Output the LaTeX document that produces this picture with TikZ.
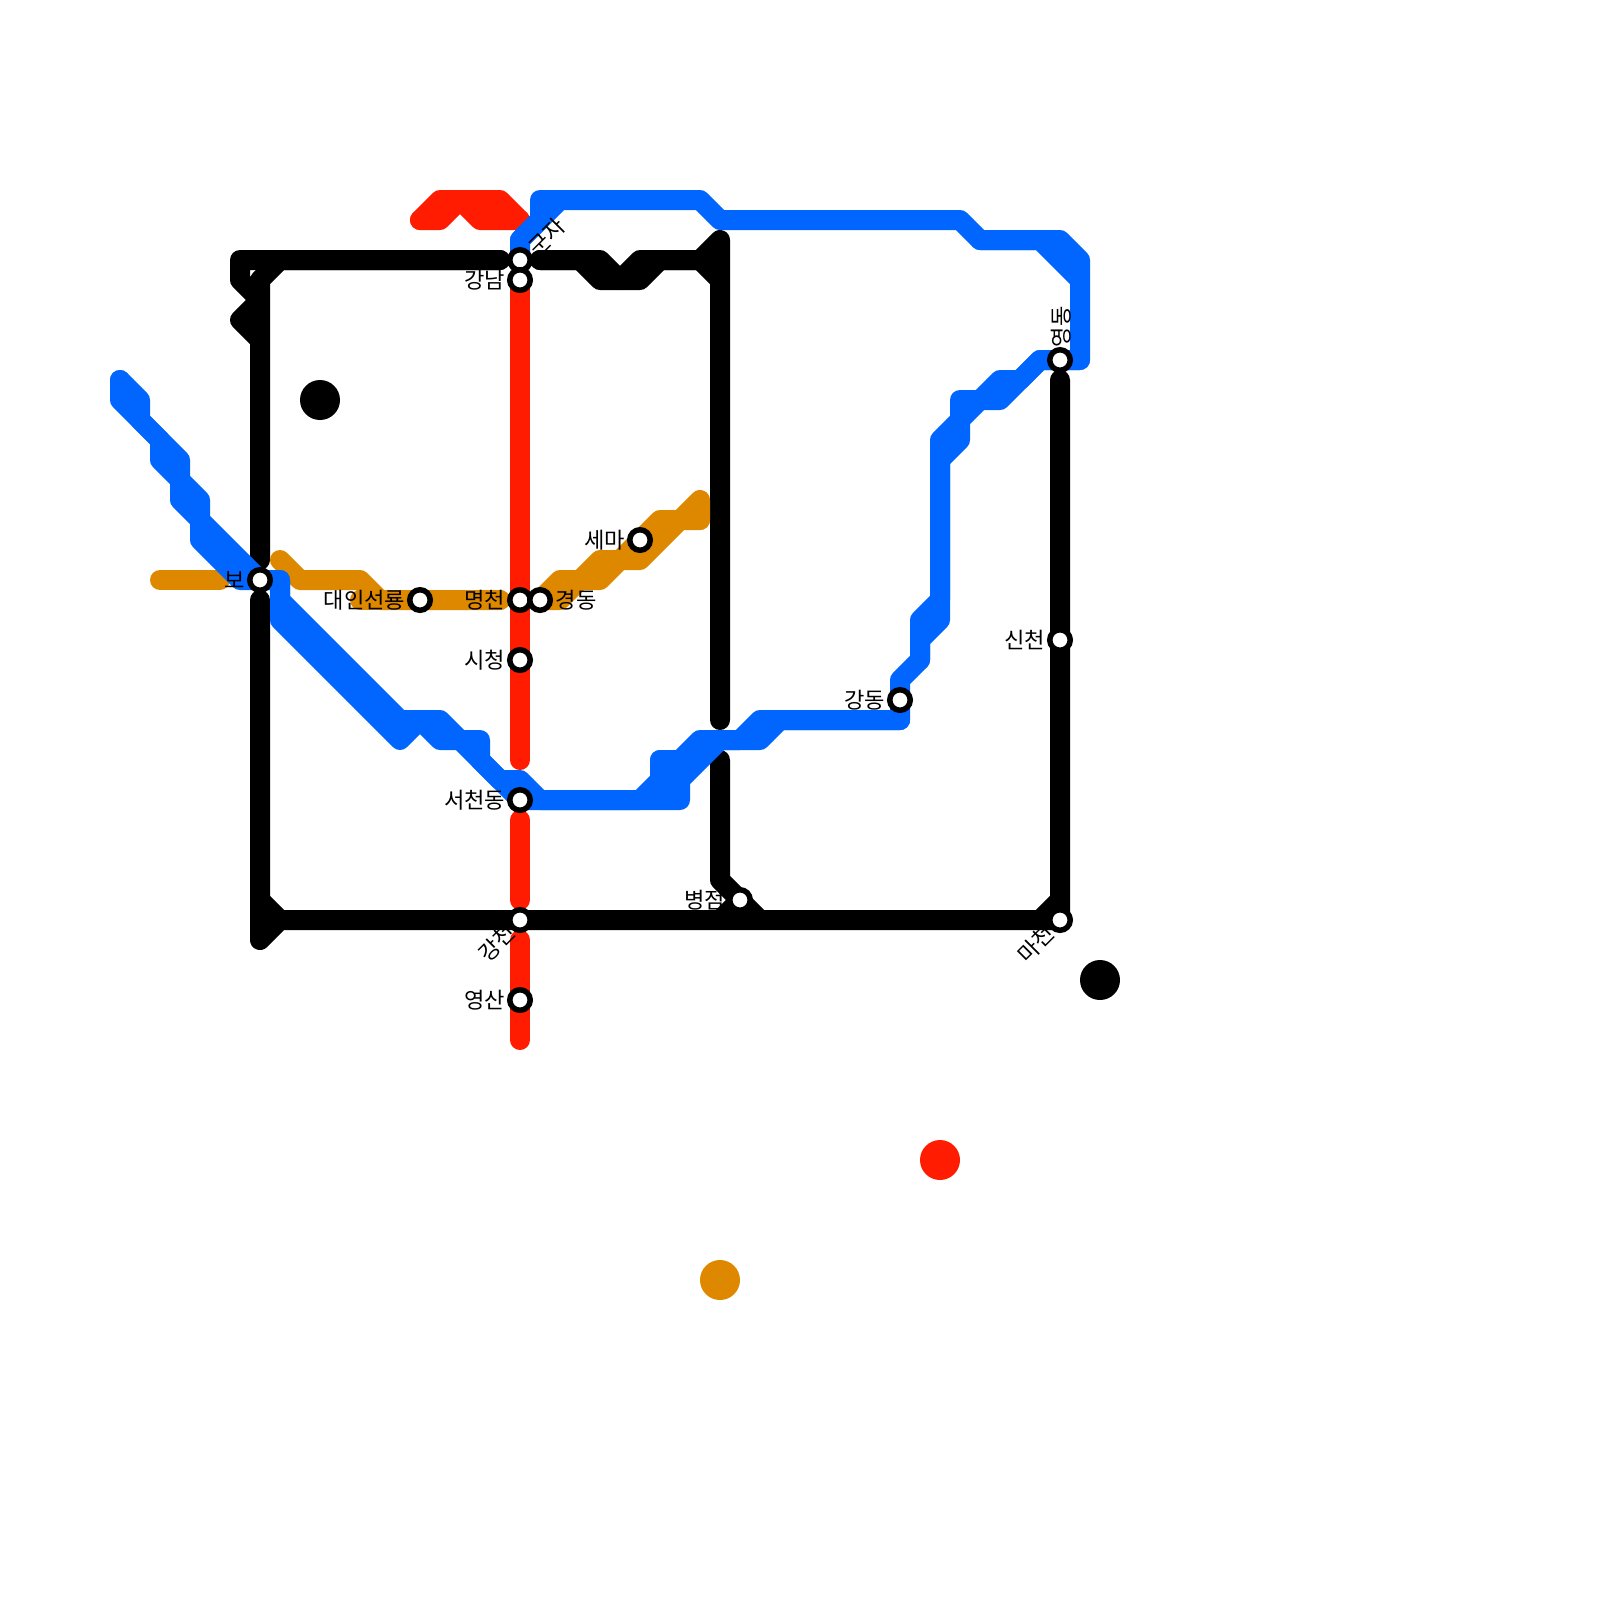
\documentclass[tikz,border=0pt]{standalone}
\usepackage{fontspec}
\setmainfont{Noto Sans CJK KR}
\usetikzlibrary{backgrounds}
\definecolor{lineblue}{RGB}{0,102,255}
\definecolor{linered}{RGB}{255,28,0}
\definecolor{lineorange}{RGB}{222,136,0}
\tikzset{
    route/.style={line width=2mm, line cap=round, line join=round},
    stop/.style={circle, draw=black, fill=white, line width=0.55mm, minimum size=2.05mm, inner sep=0pt},
    spot/.style={circle, minimum size=4mm, inner sep=0pt},
    tag/.style={inner sep=0pt, font=\fontsize{6.3}{7.5}\selectfont},
}

\begin{document}
\begin{tikzpicture}[x=0.2cm, y=-0.2cm]
    \useasboundingbox (0,0) rectangle (80,80);
    % Below nodes are the stations.
    \node[stop] (bo) at (13,29) {};
    \node[stop] (gunja) at (26,13) {};
    \node[stop] (gangnam) at (26,14) {};
    \node[stop] (daein) at (21,30) {};
    \node[stop] (myeongcheon) at (26,30) {};
    \node[stop] (gyeongdong) at (27,30) {};
    \node[stop] (sema) at (32,27) {};
    \node[stop] (sicheong) at (26,33) {};
    \node[stop] (seocheon) at (26,40) {};
    \node[stop] (gangcheon) at (26,46) {};
    \node[stop] (yeongsan) at (26,50) {};
    \node[stop] (byeongjeom) at (37,45) {};
    \node[stop] (macheon) at (53,46) {};
    \node[stop] (sincheon) at (53,32) {};
    \node[stop] (gangdong) at (45,35) {};
    \node[stop] (yeongdong) at (53,18) {};
    % These are the loose dots.
    \node[spot, fill=black] (spotA) at (16,20) {};
    \node[spot, fill=black] (spotB) at (55,49) {};
    \node[spot, fill=linered] (spotC) at (47,58) {};
    \node[spot, fill=lineorange] (spotD) at (36,64) {};
    % Below nodes are the labels.
    \node[tag, anchor=east] (bolabel) at (12.3,29) {보};
    \node[tag, anchor=west, rotate=45] (gunjalabel) at (26.6,12.6) {군자};
    \node[tag, anchor=east] (gangnamlabel) at (25.3,14) {강남};
    \node[tag, anchor=east] (daeinlabel) at (20.3,30) {대인선룡};
    \node[tag, anchor=east] (myeongcheonlabel) at (25.3,30) {명천};
    \node[tag, anchor=west] (gyeongdonglabel) at (27.75,30) {경동};
    \node[tag, anchor=east] (semalabel) at (31.3,27) {세마};
    \node[tag, anchor=east] (sicheonglabel) at (25.3,33) {시청};
    \node[tag, anchor=east] (seocheonlabel) at (25.3,40) {서천동};
    \node[tag, anchor=east, rotate=45] (gangcheonlabel) at (25.6,46.4) {강천};
    \node[tag, anchor=east] (yeongsanlabel) at (25.3,50) {영산};
    \node[tag, anchor=east] (byeongjeomlabel) at (36.3,45) {병점};
    \node[tag, anchor=east, rotate=45] (macheonlabel) at (52.55,46.45) {마천};
    \node[tag, anchor=east] (sincheonlabel) at (52.3,32) {신천};
    \node[tag, anchor=east] (gangdonglabel) at (44.3,35) {강동};
    \node[tag, anchor=west, rotate=90] (yeongdonglabel) at (53.05,17.4) {영동};
    \begin{scope}[on background layer]
    % The red line.
        \draw[route, linered] (21,11) -- (22,11) -- (23,10) -- (25,10) -- (26,11);
        \draw[route, linered] (21,11) -- (22,10) -- (23,10) -- (24,11) -- (26,11);
        \draw[route, linered] (gangnam.center) -- (sicheong.center) -- (26,38);
        \draw[route, linered] (26,41) -- (26,45);
        \draw[route, linered] (26,47) -- (yeongsan.center) -- (26,52);
    % The black line.
        \draw[route, black] (25,13) -- (12,13) -- (12,14) -- (13,15) -- (12,16) -- (13,17) -- (13,28);
        \draw[route, black] (25,13) -- (14,13) -- (13,14) -- (13,17);
        \draw[route, black] (27,13) -- (30,13) -- (31,14) -- (32,14) -- (33,13) -- (35,13) -- (36,12) -- (36,36);
        \draw[route, black] (27,13) -- (29,13) -- (30,14) -- (31,14) -- (32,13) -- (35,13) -- (36,14);
        \draw[route, black] (36,38) -- (36,44) -- (byeongjeom.center) -- (38,46);
        \draw[route, black] (36,46) -- (byeongjeom.center);
        \draw[route, black] (13,30) -- (13,47) -- (14,46) -- (gangcheon.center) -- (macheon.center) -- (sincheon.center) -- (53,19);
        \draw[route, black] (13,45) -- (14,46);
        \draw[route, black] (52,46) -- (53,45);
    % The orange line.
        \draw[route, lineorange] (8,29) -- (11,29);
        \draw[route, lineorange] (14,28) -- (15,29) -- (18,29) -- (19,30) -- (daein.center) -- (25,30);
        \draw[route, lineorange] (18,30) -- (25,30);
        \draw[route, lineorange] (gyeongdong.center) -- (28,29) -- (29,29) -- (30,28) -- (31,28) -- (sema.center) -- (33,26) -- (34,26) -- (35,25) -- (35,26);
        \draw[route, lineorange] (gyeongdong.center) -- (28,30) -- (29,29) -- (30,29) -- (31,28) -- (32,28) -- (34,26) -- (35,26);
    % The blue line.
        \draw[route, lineblue] (6,19) -- (7,20) -- (7,21) -- (9,23) -- (9,24) -- (10,25) -- (10,26) -- (bo.center) -- (14,29) -- (14,30) -- (20,36) -- (22,36) -- (23,37) -- (24,37) -- (24,38) -- (25,39) -- (26,39) -- (27,40) -- (32,40) -- (33,39) -- (33,38) -- (34,38) -- (35,37) -- (37,37) -- (38,36) -- (45,36);
        \draw[route, lineblue] (6,19) -- (6,20) -- (8,22) -- (8,23) -- (9,24) -- (9,25) -- (10,26) -- (10,27) -- (12,29) -- (14,29) -- (14,31) -- (20,37) -- (21,36) -- (22,37) -- (23,37) -- (seocheon.center) -- (34,40) -- (34,39) -- (36,37) -- (38,37) -- (39,36) -- (45,36);
        \draw[route, lineblue] (33,38) -- (33,40) -- (34,39) -- (34,38);
        \draw[route, lineblue] (45,36) -- (gangdong.center) -- (45,34) -- (46,33) -- (46,32) -- (47,31) -- (47,23) -- (48,22) -- (48,21) -- (49,20) -- (50,20) -- (52,18) -- (54,18) -- (54,13) -- (53,12) -- (49,12) -- (48,11) -- (36,11) -- (35,10) -- (28,10) -- (26,12) -- (gunja.center);
        \draw[route, lineblue] (46,33) -- (46,31) -- (47,30) -- (47,22) -- (48,21) -- (48,20) -- (49,20) -- (50,19) -- (51,19) -- (52,18) -- (yeongdong.center) -- (54,18);
        \draw[route, lineblue] (54,14) -- (52,12) -- (49,12);
        \draw[route, lineblue] (26,12) -- (27,11) -- (27,10) -- (28,10);
    \end{scope}
\end{tikzpicture}
\end{document}
